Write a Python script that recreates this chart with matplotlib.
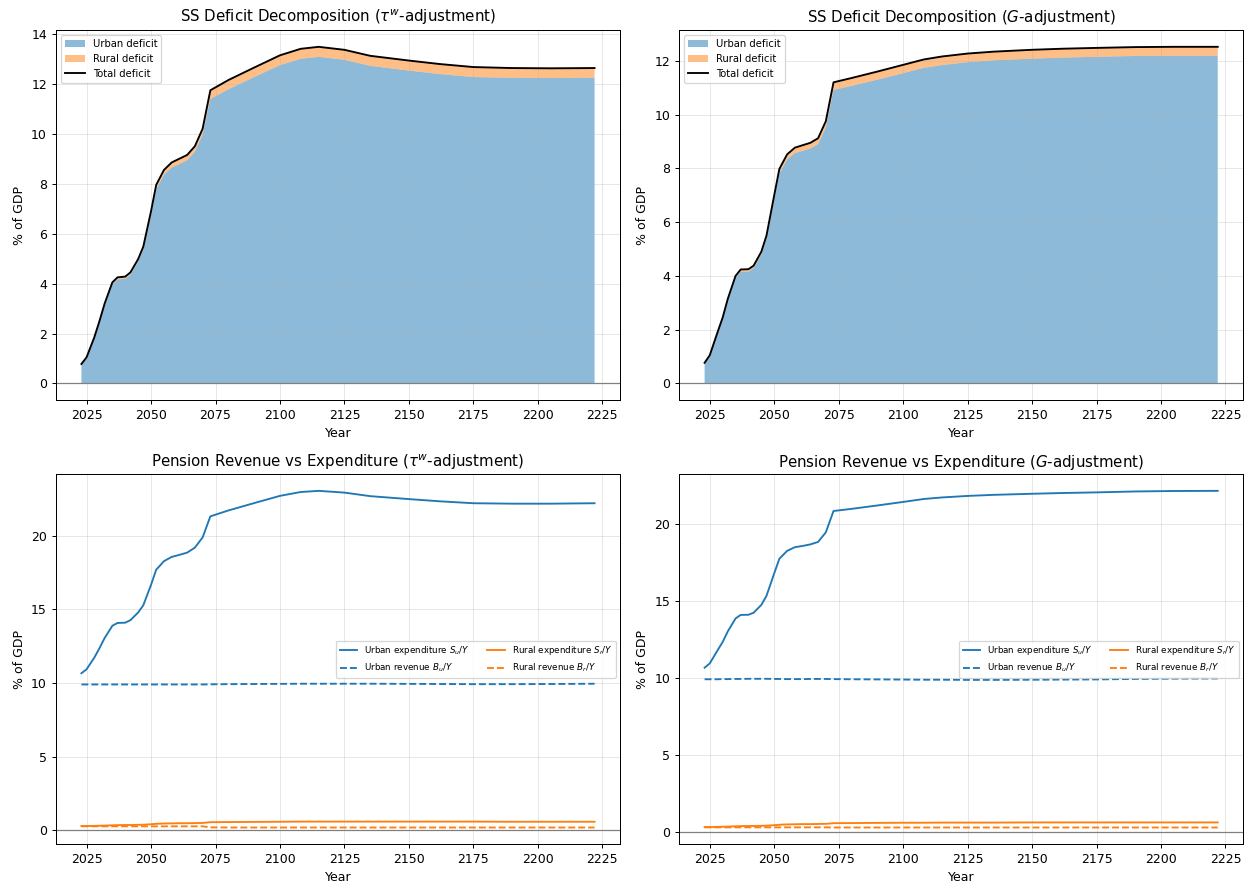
import numpy as np
import matplotlib
matplotlib.use("Agg")
import matplotlib.pyplot as plt

YEARS = [2023, 2025, 2028, 2030, 2032, 2035, 2037, 2040, 2042, 2045, 2047, 2050,
         2052, 2055, 2058, 2061, 2064, 2067, 2070, 2073, 2080, 2090, 2100, 2108,
         2115, 2125, 2135, 2150, 2162, 2175, 2190, 2205, 2222]

# tau^w-adjustment scenario (% of GDP)
SU_TAU = [10.66, 10.93, 11.72, 12.36, 13.05, 13.88, 14.07, 14.09, 14.26, 14.78, 15.27, 16.66,
          17.68, 18.26, 18.55, 18.69, 18.84, 19.18, 19.87, 21.30, 21.70, 22.20, 22.69, 22.95,
          23.03, 22.91, 22.67, 22.47, 22.32, 22.19, 22.16, 22.16, 22.19]
BU_TAU = [9.90] * 19 + [9.91, 9.92, 9.93, 9.94, 9.95, 9.95, 9.95, 9.95, 9.94, 9.93, 9.92,
                        9.92, 9.93, 9.95]
SR_TAU = [0.30, 0.30, 0.31, 0.32, 0.33, 0.35, 0.36, 0.37, 0.37, 0.38, 0.39, 0.42,
          0.45, 0.47, 0.48, 0.49, 0.49, 0.50, 0.51, 0.56, 0.57, 0.58, 0.59, 0.60,
          0.60, 0.60, 0.60, 0.60, 0.60, 0.60, 0.59, 0.59, 0.59]
BR_TAU = [0.28] * 19 + [0.21] + [0.20] * 13

# G-adjustment scenario (% of GDP)
SU_G = [10.65, 10.93, 11.77, 12.32, 13.01, 13.85, 14.08, 14.09, 14.22, 14.73, 15.32, 16.78,
        17.73, 18.24, 18.48, 18.56, 18.66, 18.82, 19.44, 20.83, 20.97, 21.19, 21.42, 21.61,
        21.71, 21.81, 21.88, 21.95, 22.00, 22.04, 22.10, 22.13, 22.14]
BU_G = [9.90, 9.90, 9.90, 9.91, 9.91, 9.92, 9.92, 9.93, 9.93, 9.93, 9.93, 9.92,
        9.92, 9.91, 9.91, 9.91, 9.92, 9.92, 9.92, 9.91, 9.90, 9.89, 9.88, 9.87,
        9.87, 9.86, 9.86, 9.87, 9.88, 9.89, 9.92, 9.94, 9.95]
SR_G = [0.30, 0.30, 0.31, 0.32, 0.33, 0.35, 0.36, 0.37, 0.37, 0.38, 0.39, 0.42,
        0.45, 0.47, 0.48, 0.49, 0.49, 0.50, 0.51, 0.55, 0.56, 0.57, 0.58, 0.58,
        0.59, 0.59, 0.59, 0.60, 0.60, 0.60, 0.60, 0.60, 0.60]
BR_G = [0.28] * 19 + [0.27] * 14

SCENARIOS = [(r"$\tau^w$-adjustment", SU_TAU, BU_TAU, SR_TAU, BR_TAU),
             (r"$G$-adjustment", SU_G, BU_G, SR_G, BR_G)]

C0, C1 = "#1f77b4", "#ff7f0e"

fig, axes = plt.subplots(2, 2, figsize=(13.86, 9.8), dpi=90)
fig.subplots_adjust(left=0.0447, right=0.9968, top=0.966, bottom=0.0427,
                    wspace=0.104, hspace=0.199)
yrs = np.array(YEARS)

for col, (name, su, bu, sr, br) in enumerate(SCENARIOS):
    su, bu, sr, br = map(np.array, (su, bu, sr, br))
    urban = su - bu
    rural = sr - br

    # top: stacked deficit
    ax = axes[0, col]
    polys = ax.stackplot(yrs, urban, rural, labels=["Urban deficit", "Rural deficit"],
                         colors=[C0, C1], alpha=0.5)
    for p in polys:
        p.sticky_edges.y.clear()
    ax.plot(yrs, urban + rural, color="black", lw=1.5, label="Total deficit")
    ax.axhline(0, color="gray", lw=1)
    ax.set_title(f"SS Deficit Decomposition ({name})")
    ax.set_xlabel("Year")
    ax.set_ylabel("% of GDP")
    ax.grid(True, alpha=0.3)
    ax.legend(loc="upper left", fontsize=8)

    # bottom: revenue vs expenditure
    ax = axes[1, col]
    ax.plot(yrs, su, color=C0, lw=1.5, label=r"Urban expenditure $S_u/Y$")
    ax.plot(yrs, bu, color=C0, lw=1.5, ls="--", label=r"Urban revenue $B_u/Y$")
    ax.plot(yrs, sr, color=C1, lw=1.5, label=r"Rural expenditure $S_r/Y$")
    ax.plot(yrs, br, color=C1, lw=1.5, ls="--", label=r"Rural revenue $B_r/Y$")
    ax.axhline(0, color="gray", lw=1)
    ax.set_title(f"Pension Revenue vs Expenditure ({name})")
    ax.set_xlabel("Year")
    ax.set_ylabel("% of GDP")
    ax.grid(True, alpha=0.3)
    ax.legend(loc="center right", fontsize=7, ncol=2)

fig.savefig("out.png", dpi=90)
